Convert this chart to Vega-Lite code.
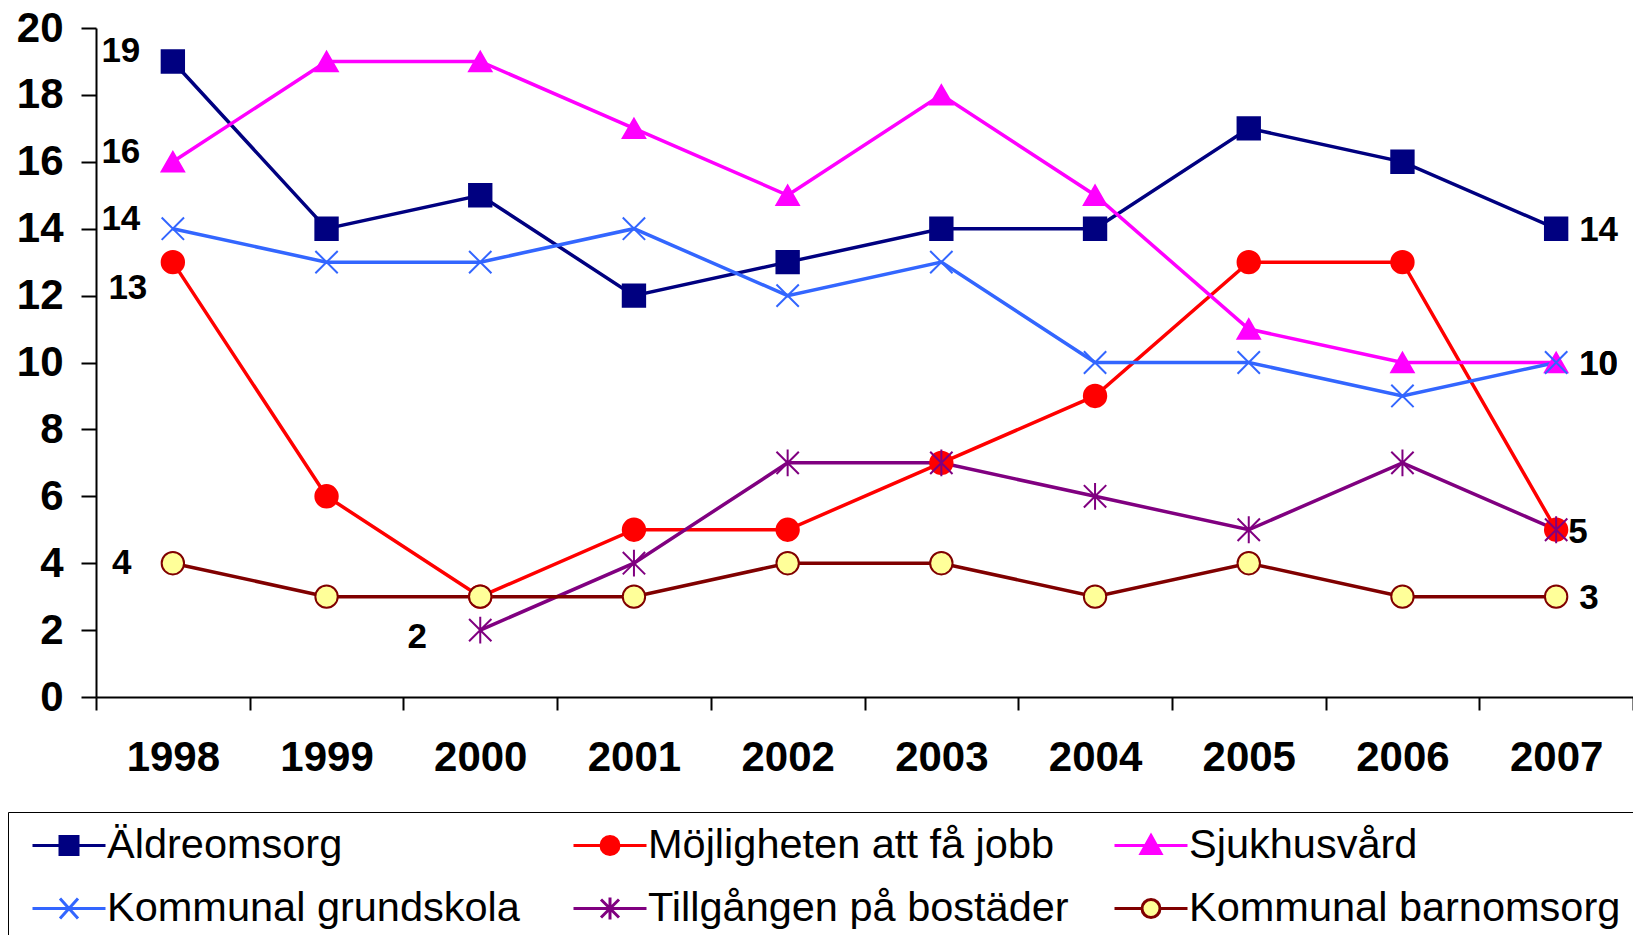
{
  "$schema": "https://vega.github.io/schema/vega-lite/v6.json",
  "width": 1537,
  "height": 669,
  "autosize": {"type": "none"},
  "padding": {"left": 96, "top": 28, "right": 0, "bottom": 238},
  "background": "white",
  "config": {"view": {"stroke": null}, "font": "Liberation Sans"},
  "data": {"values": [
    {"year": "1998", "series": "Äldreomsorg", "value": 19},
    {"year": "1999", "series": "Äldreomsorg", "value": 14},
    {"year": "2000", "series": "Äldreomsorg", "value": 15},
    {"year": "2001", "series": "Äldreomsorg", "value": 12},
    {"year": "2002", "series": "Äldreomsorg", "value": 13},
    {"year": "2003", "series": "Äldreomsorg", "value": 14},
    {"year": "2004", "series": "Äldreomsorg", "value": 14},
    {"year": "2005", "series": "Äldreomsorg", "value": 17},
    {"year": "2006", "series": "Äldreomsorg", "value": 16},
    {"year": "2007", "series": "Äldreomsorg", "value": 14},
    {"year": "1998", "series": "Möjligheten att få jobb", "value": 13},
    {"year": "1999", "series": "Möjligheten att få jobb", "value": 6},
    {"year": "2000", "series": "Möjligheten att få jobb", "value": 3},
    {"year": "2001", "series": "Möjligheten att få jobb", "value": 5},
    {"year": "2002", "series": "Möjligheten att få jobb", "value": 5},
    {"year": "2003", "series": "Möjligheten att få jobb", "value": 7},
    {"year": "2004", "series": "Möjligheten att få jobb", "value": 9},
    {"year": "2005", "series": "Möjligheten att få jobb", "value": 13},
    {"year": "2006", "series": "Möjligheten att få jobb", "value": 13},
    {"year": "2007", "series": "Möjligheten att få jobb", "value": 5},
    {"year": "1998", "series": "Sjukhusvård", "value": 16},
    {"year": "1999", "series": "Sjukhusvård", "value": 19},
    {"year": "2000", "series": "Sjukhusvård", "value": 19},
    {"year": "2001", "series": "Sjukhusvård", "value": 17},
    {"year": "2002", "series": "Sjukhusvård", "value": 15},
    {"year": "2003", "series": "Sjukhusvård", "value": 18},
    {"year": "2004", "series": "Sjukhusvård", "value": 15},
    {"year": "2005", "series": "Sjukhusvård", "value": 11},
    {"year": "2006", "series": "Sjukhusvård", "value": 10},
    {"year": "2007", "series": "Sjukhusvård", "value": 10},
    {"year": "1998", "series": "Kommunal grundskola", "value": 14},
    {"year": "1999", "series": "Kommunal grundskola", "value": 13},
    {"year": "2000", "series": "Kommunal grundskola", "value": 13},
    {"year": "2001", "series": "Kommunal grundskola", "value": 14},
    {"year": "2002", "series": "Kommunal grundskola", "value": 12},
    {"year": "2003", "series": "Kommunal grundskola", "value": 13},
    {"year": "2004", "series": "Kommunal grundskola", "value": 10},
    {"year": "2005", "series": "Kommunal grundskola", "value": 10},
    {"year": "2006", "series": "Kommunal grundskola", "value": 9},
    {"year": "2007", "series": "Kommunal grundskola", "value": 10},
    {"year": "2000", "series": "Tillgången på bostäder", "value": 2},
    {"year": "2001", "series": "Tillgången på bostäder", "value": 4},
    {"year": "2002", "series": "Tillgången på bostäder", "value": 7},
    {"year": "2003", "series": "Tillgången på bostäder", "value": 7},
    {"year": "2004", "series": "Tillgången på bostäder", "value": 6},
    {"year": "2005", "series": "Tillgången på bostäder", "value": 5},
    {"year": "2006", "series": "Tillgången på bostäder", "value": 7},
    {"year": "2007", "series": "Tillgången på bostäder", "value": 5},
    {"year": "1998", "series": "Kommunal barnomsorg", "value": 4},
    {"year": "1999", "series": "Kommunal barnomsorg", "value": 3},
    {"year": "2000", "series": "Kommunal barnomsorg", "value": 3},
    {"year": "2001", "series": "Kommunal barnomsorg", "value": 3},
    {"year": "2002", "series": "Kommunal barnomsorg", "value": 4},
    {"year": "2003", "series": "Kommunal barnomsorg", "value": 4},
    {"year": "2004", "series": "Kommunal barnomsorg", "value": 3},
    {"year": "2005", "series": "Kommunal barnomsorg", "value": 4},
    {"year": "2006", "series": "Kommunal barnomsorg", "value": 3},
    {"year": "2007", "series": "Kommunal barnomsorg", "value": 3}
  ]},
  "encoding": {
    "x": {
      "field": "year", "type": "ordinal", "bandPosition": 0.5,
      "scale": {"type": "band", "paddingInner": 0, "paddingOuter": 0},
      "axis": {"title": null, "labelAngle": 0, "labelFontSize": 42, "labelFontWeight": "bold", "labelColor": "black", "labelFont": "Liberation Sans",
        "domainColor": "black", "domainWidth": 2, "tickColor": "black", "tickWidth": 2, "tickSize": 13, "tickBand": "extent", "labelPadding": 27, "grid": false}
    },
    "y": {
      "field": "value", "type": "quantitative",
      "scale": {"domain": [0, 20], "nice": false},
      "axis": {"title": null, "values": [0, 2, 4, 6, 8, 10, 12, 14, 16, 18, 20], "labelFontSize": 42, "labelFontWeight": "bold", "labelColor": "black", "labelFont": "Liberation Sans",
        "domainColor": "black", "domainWidth": 2, "tickColor": "black", "tickWidth": 2, "tickSize": 15, "labelPadding": 18, "grid": false, "labelFlush": false}
    }
  },
  "resolve": {"scale": {"shape": "independent", "stroke": "independent", "fill": "independent"}},
  "layer": [
    {
      "mark": {"type": "line", "strokeWidth": 3.5},
      "encoding": {
        "color": {"field": "series", "type": "nominal",
          "scale": {"domain": ["Äldreomsorg", "Möjligheten att få jobb", "Sjukhusvård", "Kommunal grundskola", "Tillgången på bostäder", "Kommunal barnomsorg"],
                    "range": ["#000080", "#FF0000", "#FF00FF", "#3366FF", "#800080", "#800000"]},
          "legend": null}
      }
    },
    {
      "mark": {"type": "point", "filled": false, "strokeWidth": 2, "opacity": 1, "size": 500},
      "encoding": {
        "shape": {"field": "series", "type": "nominal",
          "scale": {"domain": ["Äldreomsorg", "Möjligheten att få jobb", "Sjukhusvård", "Kommunal grundskola", "Tillgången på bostäder", "Kommunal barnomsorg"],
                    "range": ["square", "circle", "triangle-up", "M-1,-1L1,1M-1,1L1,-1", "M-1,-1L1,1M-1,1L1,-1M0,-1.2V1.2", "circle"]},
          "legend": null},
        "stroke": {"field": "series", "type": "nominal",
          "scale": {"domain": ["Äldreomsorg", "Möjligheten att få jobb", "Sjukhusvård", "Kommunal grundskola", "Tillgången på bostäder", "Kommunal barnomsorg"],
                    "range": ["#000080", "#FF0000", "#FF00FF", "#3366FF", "#800080", "#800000"]},
          "legend": null},
        "fill": {"field": "series", "type": "nominal",
          "scale": {"domain": ["Äldreomsorg", "Möjligheten att få jobb", "Sjukhusvård", "Kommunal grundskola", "Tillgången på bostäder", "Kommunal barnomsorg"],
                    "range": ["#000080", "#FF0000", "#FF00FF", "#3366FF", "#800080", "#FFFF99"]},
          "legend": null}
      }
    },
    {
      "transform": [{"filter": {"field": "series", "equal": "__none__"}}],
      "mark": {"type": "point", "filled": false, "strokeWidth": 3, "opacity": 1, "size": 1600},
      "encoding": {
        "shape": {"field": "series", "type": "nominal", "title": null,
          "scale": {"domain": ["Äldreomsorg", "Möjligheten att få jobb", "Sjukhusvård", "Kommunal grundskola", "Tillgången på bostäder", "Kommunal barnomsorg"],
                    "range": [
                      "M-0.45,0H3.2M0.925,-0.45H1.825V0.45H0.925Z",
                      "M-0.45,0H3.2M1.825,0A0.45,0.45,0,1,1,0.925,0A0.45,0.45,0,1,1,1.825,0Z",
                      "M-0.45,0H3.2M1.375,-0.5L1.875,0.4H0.875Z",
                      "M-0.45,0H3.2M0.925,-0.5L1.825,0.5M0.925,0.5L1.825,-0.5",
                      "M-0.45,0H3.2M0.925,-0.45L1.825,0.45M0.925,0.45L1.825,-0.45M1.375,-0.55V0.55",
                      "M-0.45,0H0.925M1.825,0H3.2M1.825,0A0.45,0.45,0,1,1,0.925,0A0.45,0.45,0,1,1,1.825,0Z"
                    ]},
          "legend": {"orient": "none", "legendX": -88, "legendY": 784, "direction": "horizontal", "columns": 3, "gridAlign": "all",
            "labelFontSize": 41.5, "labelFont": "Liberation Sans", "labelColor": "black", "labelOffset": 44, "labelLimit": 1000,
            "symbolSize": 1600, "symbolStrokeWidth": 3, "rowPadding": 21, "columnPadding": 22, "padding": 12,
            "strokeColor": "black", "fillColor": "white",
            "encode": {"legend": {"update": {"strokeWidth": {"value": 2}}}}}},
        "stroke": {"field": "series", "type": "nominal", "title": null,
          "scale": {"domain": ["Äldreomsorg", "Möjligheten att få jobb", "Sjukhusvård", "Kommunal grundskola", "Tillgången på bostäder", "Kommunal barnomsorg"],
                    "range": ["#000080", "#FF0000", "#FF00FF", "#3366FF", "#800080", "#800000"]}},
        "fill": {"field": "series", "type": "nominal", "title": null,
          "scale": {"domain": ["Äldreomsorg", "Möjligheten att få jobb", "Sjukhusvård", "Kommunal grundskola", "Tillgången på bostäder", "Kommunal barnomsorg"],
                    "range": ["#000080", "#FF0000", "#FF00FF", "#3366FF", "#800080", "#FFFF99"]}}
      }
    },
    {
      "transform": [{"filter": {"and": [{"field": "year", "equal": "1998"}, {"field": "series", "oneOf": ["Äldreomsorg", "Sjukhusvård", "Kommunal grundskola"]}]}}],
      "mark": {"type": "text", "fontSize": 35, "fontWeight": "bold", "font": "Liberation Sans", "color": "black", "dx": -52, "dy": -10},
      "encoding": {"text": {"field": "value", "type": "quantitative"}}
    },
    {
      "transform": [{"filter": {"and": [{"field": "year", "equal": "1998"}, {"field": "series", "equal": "Möjligheten att få jobb"}]}}],
      "mark": {"type": "text", "fontSize": 35, "fontWeight": "bold", "font": "Liberation Sans", "color": "black", "dx": -45, "dy": 26},
      "encoding": {"text": {"field": "value", "type": "quantitative"}}
    },
    {
      "transform": [{"filter": {"and": [{"field": "year", "equal": "1998"}, {"field": "series", "equal": "Kommunal barnomsorg"}]}}],
      "mark": {"type": "text", "fontSize": 35, "fontWeight": "bold", "font": "Liberation Sans", "color": "black", "dx": -51, "dy": 0},
      "encoding": {"text": {"field": "value", "type": "quantitative"}}
    },
    {
      "transform": [{"filter": {"and": [{"field": "year", "equal": "2000"}, {"field": "series", "equal": "Tillgången på bostäder"}]}}],
      "mark": {"type": "text", "fontSize": 35, "fontWeight": "bold", "font": "Liberation Sans", "color": "black", "dx": -63, "dy": 7},
      "encoding": {"text": {"field": "value", "type": "quantitative"}}
    },
    {
      "transform": [{"filter": {"and": [{"field": "year", "equal": "2007"}, {"field": "series", "oneOf": ["Äldreomsorg", "Sjukhusvård", "Kommunal grundskola", "Kommunal barnomsorg"]}]}}],
      "mark": {"type": "text", "fontSize": 35, "fontWeight": "bold", "font": "Liberation Sans", "color": "black", "align": "left", "dx": 23, "dy": 1},
      "encoding": {"text": {"field": "value", "type": "quantitative"}}
    },
    {
      "transform": [{"filter": {"and": [{"field": "year", "equal": "2007"}, {"field": "series", "equal": "Möjligheten att få jobb"}]}}],
      "mark": {"type": "text", "fontSize": 35, "fontWeight": "bold", "font": "Liberation Sans", "color": "black", "align": "left", "dx": 12, "dy": 2},
      "encoding": {"text": {"field": "value", "type": "quantitative"}}
    }
  ]
}
